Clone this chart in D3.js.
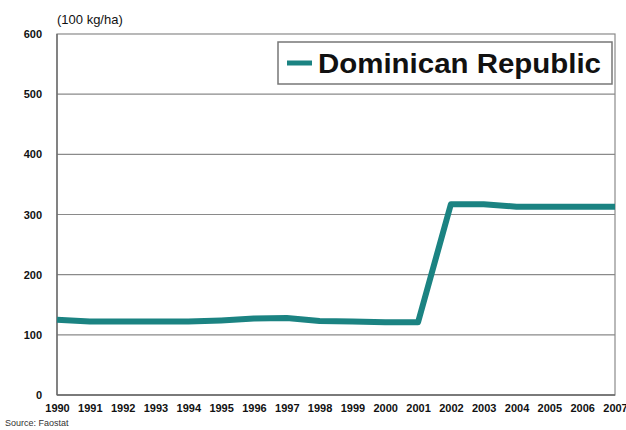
<!DOCTYPE html>
<html><head><meta charset="utf-8">
<script src="https://cdn.jsdelivr.net/npm/d3@7"></script>
<style>body{margin:0;background:#fff}svg{display:block}</style>
</head><body>
<script>
const years = [1990,1991,1992,1993,1994,1995,1996,1997,1998,1999,2000,2001,2002,2003,2004,2005,2006,2007];
const values = [125,122,122,122,122,124,127,128,123,122,121,121,317,317,313,313,313,313];
const yTicks = [0,100,200,300,400,500,600];
const seriesName = "Dominican Republic";
const unitLabel = "(100 kg/ha)";
const sourceLabel = "Source: Faostat";

const W = 626, H = 430;
const m = {left:57, right:11, top:34, bottom:35};
const svg = d3.select("body").append("svg").attr("width",W).attr("height",H);
const x = d3.scaleLinear().domain([1990,2007]).range([m.left, W-m.right]);
const y = d3.scaleLinear().domain([0,600]).range([H-m.bottom, m.top]);

// gridlines
svg.append("g").selectAll("line").data(yTicks.filter(d=>d>0 && d<600)).join("line")
  .attr("x1",x(1990)).attr("x2",x(2007)).attr("y1",d=>y(d)).attr("y2",d=>y(d))
  .attr("stroke","#8a8a8a").attr("stroke-width",1.2);
// frame
svg.append("rect").attr("x",x(1990)).attr("y",y(600)).attr("width",x(2007)-x(1990)).attr("height",y(0)-y(600))
  .attr("fill","none").attr("stroke","#8a8a8a").attr("stroke-width",1.2);
svg.append("line").attr("x1",x(1990)).attr("x2",x(1990)).attr("y1",y(0)).attr("y2",y(600)).attr("stroke","#666").attr("stroke-width",1.3);
svg.append("line").attr("x1",x(1990)).attr("x2",x(2007)).attr("y1",y(0)).attr("y2",y(0)).attr("stroke","#666").attr("stroke-width",1.3);

// y axis labels
const yAxis = d3.axisLeft(y).tickValues(yTicks).tickSize(0).tickPadding(15);
const ga = svg.append("g").attr("transform",`translate(${x(1990)},0)`).call(yAxis);
ga.select(".domain").remove();
ga.selectAll("text").attr("font-family","Liberation Sans, Arial, sans-serif").attr("font-size",11).attr("font-weight","bold").attr("fill","#111");

// x axis labels
const xAxis = d3.axisBottom(x).tickValues(years).tickFormat(d3.format("d")).tickSize(0).tickPadding(9);
const gx = svg.append("g").attr("transform",`translate(0,${y(0)})`).call(xAxis);
gx.select(".domain").remove();
gx.selectAll("text").attr("font-family","Liberation Sans, Arial, sans-serif").attr("font-size",11).attr("font-weight","bold").attr("fill","#111");

// line
const line = d3.line().x((d,i)=>x(years[i])).y(d=>y(d));
svg.append("path").datum(values).attr("d",line).attr("fill","none")
  .attr("stroke","#1b8382").attr("stroke-width",6).attr("stroke-linejoin","round");

// unit label
svg.append("text").attr("x",57).attr("y",24).text(unitLabel)
  .attr("font-family","Liberation Sans, Arial, sans-serif").attr("font-size",13).attr("fill","#111");
// source
svg.append("text").attr("x",5).attr("y",426).text(sourceLabel)
  .attr("font-family","Liberation Sans, Arial, sans-serif").attr("font-size",9).attr("fill","#333");

// legend
const lg = svg.append("g");
lg.append("rect").attr("x",278).attr("y",42).attr("width",334).attr("height",42)
  .attr("fill","#fff").attr("stroke","#777").attr("stroke-width",1.5);
lg.append("line").attr("x1",287).attr("x2",312).attr("y1",63).attr("y2",63)
  .attr("stroke","#1b8382").attr("stroke-width",5);
lg.append("text").attr("x",318).attr("y",73).text(seriesName)
  .attr("font-family","Liberation Sans, Arial, sans-serif").attr("font-size",27).attr("font-weight","bold").attr("fill","#111")
  .attr("textLength",283).attr("lengthAdjust","spacingAndGlyphs");
</script>
</body></html>
